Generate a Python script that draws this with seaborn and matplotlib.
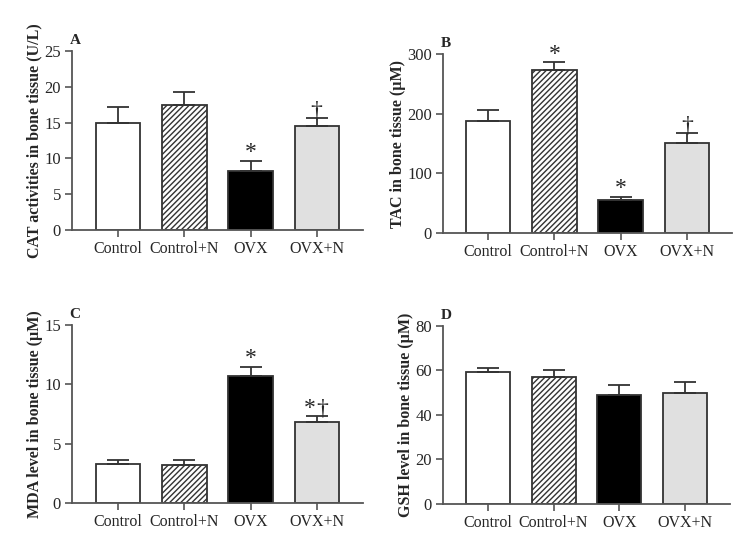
import matplotlib
matplotlib.use("Agg")
import matplotlib.pyplot as plt
import seaborn as sns
import pandas as pd

sns.set_style("ticks")
plt.rcParams['font.family'] = ['Liberation Serif', 'DejaVu Serif']
plt.rcParams['hatch.color'] = '#222222'
plt.rcParams['hatch.linewidth'] = 1.0

categories = ["Control", "Control+N", "OVX", "OVX+N"]

cat_mean = [15.0, 17.4, 8.3, 14.5]
cat_err = [2.2, 1.9, 1.3, 1.1]
cat_marks = ["", "", "*", "\u2020"]

tac_mean = [187, 273, 56, 151]
tac_err = [19, 13, 5, 16]
tac_marks = ["", "*", "*", "\u2020"]

mda_mean = [3.25, 3.2, 10.7, 6.8]
mda_err = [0.35, 0.4, 0.8, 0.5]
mda_marks = ["", "", "*", "*\u2020"]

gsh_mean = [59.3, 57.0, 49.0, 50.0]
gsh_err = [1.7, 3.3, 4.3, 4.8]
gsh_marks = ["", "", "", ""]

panels = [
    ("A", "CAT activities in bone tissue (U/L)", cat_mean, cat_err, cat_marks, (0, 25), [0, 5, 10, 15, 20, 25],
     [0.0952, 0.5848, 0.3849, 0.3231], (-0.7, 3.7)),
    ("B", "TAC in bone tissue (\u00b5M)", tac_mean, tac_err, tac_marks, (0, 300), [0, 100, 200, 300],
     [0.586, 0.5794, 0.3823, 0.3231], (-0.68, 3.68)),
    ("C", "MDA level in bone tissue (\u00b5M)", mda_mean, mda_err, mda_marks, (0, 15), [0, 5, 10, 15],
     [0.0952, 0.0921, 0.3849, 0.3213], (-0.7, 3.7)),
    ("D", "GSH level in bone tissue (\u00b5M)", gsh_mean, gsh_err, gsh_marks, (0, 80), [0, 20, 40, 60, 80],
     [0.586, 0.0903, 0.3796, 0.3213], (-0.68, 3.68)),
]

colors = ["white", "white", "black", "#e0e0e0"]
hatches = [None, "//////", None, None]
spine_c = "#555555"
edge_c = "#333333"

fig = plt.figure(figsize=(7.56, 5.54), dpi=100)

for letter, ylabel, mean, err, marks, ylim, yticks, pos, xlim in panels:
    ax = fig.add_axes(pos)
    df = pd.DataFrame({"group": categories, "value": mean})
    sns.barplot(data=df, x="group", y="value", hue="group", palette=colors,
                legend=False, width=0.67, ax=ax, edgecolor=edge_c, linewidth=1.3,
                errorbar=None)
    for p, h in zip(ax.patches, hatches):
        if h:
            p.set_hatch(h)
    ax.errorbar(range(len(categories)), mean, yerr=[[0]*len(err), err], fmt="none",
                ecolor=edge_c, elinewidth=1.3, capsize=8, capthick=1.3, zorder=1)
    rng = ylim[1] - ylim[0]
    for i, (m, e, mk) in enumerate(zip(mean, err, marks)):
        if not mk:
            continue
        top = m + e
        if mk == "*":
            ax.text(i, top + 0.016 * rng, "*", ha="center", va="baseline", fontsize=17)
        elif mk == "\u2020":
            ax.text(i, top + 0.008 * rng, "\u2020", ha="center", va="baseline", fontsize=17)
        else:
            ax.text(i - 0.11, top + 0.016 * rng, "*", ha="center", va="baseline", fontsize=17)
            ax.text(i + 0.09, top + 0.008 * rng, "\u2020", ha="center", va="baseline", fontsize=17)
    ax.set_ylim(*ylim)
    ax.set_yticks(yticks)
    ax.set_xlim(*xlim)
    ax.set_xlabel("")
    ax.set_ylabel(ylabel, fontsize=11.5, fontweight="bold", labelpad=1)
    ax.tick_params(axis="both", labelsize=12, length=5, width=1.2, color=spine_c, pad=3)
    ax.tick_params(axis="x", labelsize=11.5)
    for s in ["left", "bottom"]:
        ax.spines[s].set_color(spine_c)
        ax.spines[s].set_linewidth(1.3)
    sns.despine(ax=ax)
    ax.text(0.01, 1.04, letter, transform=ax.transAxes, fontsize=11, fontweight="bold",
            ha="center", va="baseline")

fig.savefig("out.png", dpi=100)
